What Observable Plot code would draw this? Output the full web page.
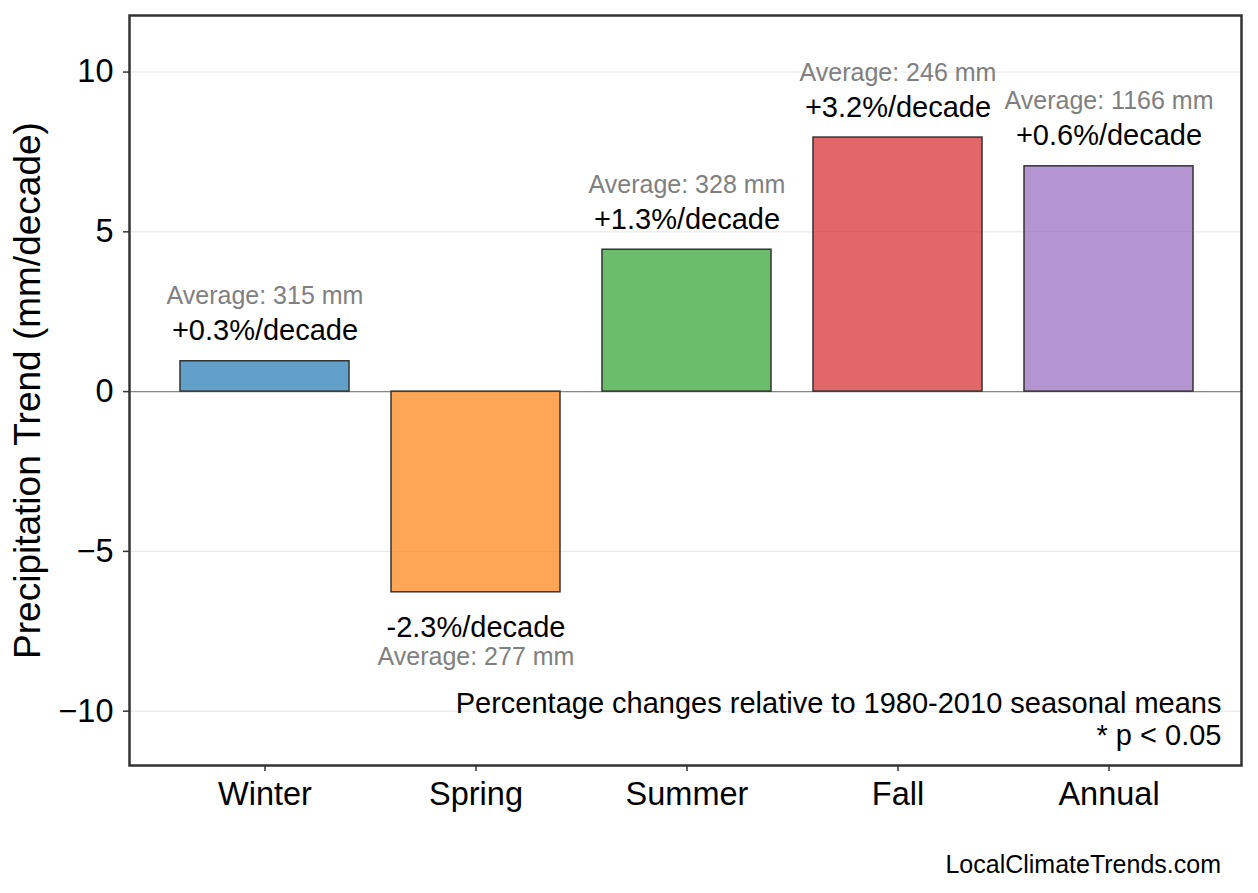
<!DOCTYPE html>
<html><head><meta charset="utf-8">
<script src="https://cdn.jsdelivr.net/npm/d3@7"></script>
<script src="https://cdn.jsdelivr.net/npm/@observablehq/plot@0.6"></script>
<style>
body{margin:0;background:#fff;font-family:"Liberation Sans",Arial,sans-serif;}
#footer{width:1258px;height:45px;box-sizing:border-box;padding-right:37px;text-align:right;font-size:25px;line-height:33px;color:#000;}
</style></head><body><div id="chart"></div><div id="footer">LocalClimateTrends.com</div>
<script>
const seasons = ["Winter", "Spring", "Summer", "Fall", "Annual"];
const trends = [0.95, -6.28, 4.44, 7.95, 7.05];
const pctLabels = ["+0.3%/decade", "-2.3%/decade", "+1.3%/decade", "+3.2%/decade", "+0.6%/decade"];
const averages = [315, 277, 328, 246, 1166];
const colors = ["#1f77b4", "#ff7f0e", "#2ca02c", "#d62728", "#9467bd"];
const yTicks = [-10, -5, 0, 5, 10];
const yDomain = [-11.70, 11.77];
const yLabel = "Precipitation Trend (mm/decade)";
const noteLines = ["Percentage changes relative to 1980-2010 seasonal means", "* p < 0.05"];

const data = seasons.map((s, i) => ({
  season: s, trend: trends[i], pct: pctLabels[i],
  avg: `Average: ${averages[i]} mm`, color: colors[i]
}));
const pos = data.filter(d => d.trend >= 0);
const neg = data.filter(d => d.trend < 0);

const chart = Plot.plot({
  width: 1258, height: 848,
  marginTop: 15, marginBottom: 83, marginLeft: 129, marginRight: 17,
  style: {fontFamily: '"Liberation Sans", Arial, sans-serif', background: "white", color: "black"},
  x: {domain: seasons, paddingInner: 0.2, paddingOuter: 0.235, align: 0.515, label: null},
  y: {domain: yDomain, label: null},
  color: {type: "identity"},
  marks: [
    Plot.gridY(yTicks, {stroke: "#e6e6e6", strokeOpacity: 1, strokeWidth: 1}),
    Plot.ruleY([0], {stroke: "#888", strokeWidth: 1.3}),
    Plot.barY(data, {x: "season", y: "trend", fill: "color", fillOpacity: 0.7, stroke: "#333", strokeWidth: 1.5}),
    Plot.text(pos, {x: "season", y: "trend", text: "pct", dy: -21, lineAnchor: "bottom", fontSize: 29, fill: "black"}),
    Plot.text(pos, {x: "season", y: "trend", text: "avg", dy: -57, lineAnchor: "bottom", fontSize: 25, fill: "#808080"}),
    Plot.text(neg, {x: "season", y: "trend", text: "pct", dy: 45, lineAnchor: "bottom", fontSize: 29, fill: "black"}),
    Plot.text(neg, {x: "season", y: "trend", text: "avg", dy: 73, lineAnchor: "bottom", fontSize: 25, fill: "#808080"}),
    Plot.text([noteLines.join("\n")], {frameAnchor: "bottom-right", dx: -20, dy: -21, lineAnchor: "bottom", textAnchor: "end", fontSize: 29, lineHeight: 1.07, fill: "black"}),
    Plot.text([yLabel], {frameAnchor: "left", rotate: -90, dx: -101, fontSize: 37, textAnchor: "middle", lineAnchor: "middle", fill: "black"}),
    Plot.axisY(yTicks, {tickSize: 6, tickPadding: 10, fontSize: 32.5, label: null, stroke: "#333", strokeWidth: 1.5, fill: "black"}),
    Plot.axisX({tickSize: 6, tickPadding: 10, fontSize: 32.5, label: null, stroke: "#333", strokeWidth: 1.5, fill: "black"}),
    Plot.frame({stroke: "#333", strokeWidth: 2.5})
  ]
});
document.getElementById("chart").appendChild(chart);
</script>
</body></html>
